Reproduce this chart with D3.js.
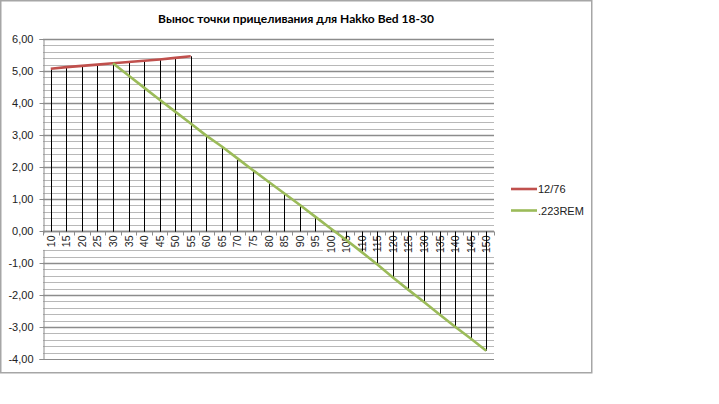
<!DOCTYPE html>
<html>
<head>
<meta charset="utf-8">
<script src="https://cdn.jsdelivr.net/npm/d3@7"></script>
<style>
  html, body { margin: 0; padding: 0; background: #fff; }
  svg { display: block; }
  text { font-family: "Liberation Sans", Arial, sans-serif; }
</style>
</head>
<body>
<div id="chart"></div>
<script>
const chartTitle = "Вынос точки прицеливания для Hakko Bed 18-30";
const distances = ["10", "15", "20", "25", "30", "35", "40", "45", "50", "55",
  "60", "65", "70", "75", "80", "85", "90", "95", "100", "105",
  "110", "115", "120", "125", "130", "135", "140", "145", "150"];
const seriesNames = ["12/76", ".223REM"];
const seriesColors = ["#c0504d", "#9bbb59"];
const values1276 = [5.07, 5.12, 5.16, 5.20, 5.24, 5.28, 5.32, 5.36, 5.41, 5.46,
  null, null, null, null, null, null, null, null, null, null,
  null, null, null, null, null, null, null, null, null];
const values223 = [null, null, null, null, 5.24, 4.86, 4.48, 4.10, 3.73, 3.36,
  2.98, 2.64, 2.27, 1.90, 1.54, 1.18, 0.82, 0.45, 0.08, -0.28,
  -0.66, -1.05, -1.45, -1.84, -2.22, -2.61, -2.99, -3.36, -3.74];
const yTicks = [-4, -3, -2, -1, 0, 1, 2, 3, 4, 5, 6];

window.addEventListener('load', drawChart);

function drawChart() {
  const W = 719, H = 404;
  const svg = d3.select('#chart').append('svg')
    .attr('width', W).attr('height', H);

  // chart frame
  svg.append('rect')
    .attr('x', 0.75).attr('y', 0.75)
    .attr('width', 591).attr('height', 372)
    .attr('fill', '#fff')
    .attr('stroke', '#a6a6a6')
    .attr('stroke-width', 1.5);

  svg.append('text')
    .attr('x', 296).attr('y', 23)
    .attr('text-anchor', 'middle')
    .style('font-family', 'Lato, sans-serif')
    .style('font-weight', 'bold')
    .style('font-size', '12px')
    .attr('fill', '#000')
    .text(chartTitle);

  const x = d3.scaleBand().domain(distances).range([43, 494]).padding(0);
  const y = d3.scaleLinear().domain([-4, 6]).range([359, 39]);
  const cx = d => x(d) + x.bandwidth() / 2;

  // minor gridlines every 0.2
  const minor = d3.range(-4, 6.001, 0.2).filter(v => Math.abs(v - Math.round(v)) > 1e-6);
  svg.append('g').selectAll('line').data(minor).enter().append('line')
    .attr('x1', 43).attr('x2', 494)
    .attr('y1', v => Math.round(y(v)) + 0.5).attr('y2', v => Math.round(y(v)) + 0.5)
    .attr('stroke', '#b8b8b8').attr('stroke-width', 1);
  // major gridlines
  svg.append('g').selectAll('line').data(yTicks.filter(v => v !== -4)).enter().append('line')
    .attr('x1', 43).attr('x2', 494)
    .attr('y1', v => Math.round(y(v)) + 0.5).attr('y2', v => Math.round(y(v)) + 0.5)
    .attr('stroke', '#8c8c8c').attr('stroke-width', 1.3);
  svg.append('line')
    .attr('x1', 43).attr('x2', 494)
    .attr('y1', Math.round(y(-4)) + 0.5).attr('y2', Math.round(y(-4)) + 0.5)
    .attr('stroke', '#8c8c8c');

  // y axis
  const yAxis = svg.append('g')
    .attr('transform', 'translate(43.5,0)')
    .call(d3.axisLeft(y).tickValues(yTicks).tickSize(4)
      .tickFormat(d => d3.format('.2f')(d).replace('.', ',').replace('−', '-')));
  yAxis.select('.domain').attr('stroke', '#8c8c8c');
  yAxis.selectAll('.tick line').attr('stroke', '#8c8c8c');
  yAxis.selectAll('text')
    .attr('x', -10)
    .style('font-size', '11px')
    .style('font-family', '"Liberation Sans", Arial, sans-serif')
    .attr('fill', '#222');

  // category axis at 0, labels with white background
  const y0 = Math.round(y(0)) + 0.5;
  const labelG = svg.append('g');
  distances.forEach(d => {
    const len = d.length * 6.2 + 2;
    labelG.append('rect')
      .attr('x', x(d)).attr('y', y0 + 2)
      .attr('width', x.bandwidth()).attr('height', len + 2)
      .attr('fill', '#fff');
    labelG.append('text')
      .attr('transform', `translate(${cx(d) + 4},${y0 + 4}) rotate(-90)`)
      .attr('text-anchor', 'end')
      .style('font-size', '10.5px')
      .attr('fill', '#222')
      .text(d);
  });
  svg.append('line')
    .attr('x1', 43).attr('x2', 494)
    .attr('y1', y0).attr('y2', y0)
    .attr('stroke', '#8c8c8c').attr('stroke-width', 1.3);
  const bounds = distances.map(d => x(d)).concat([x.range()[1]]);
  svg.append('g').selectAll('line').data(bounds).enter().append('line')
    .attr('x1', b => Math.round(b) + 0.5).attr('x2', b => Math.round(b) + 0.5)
    .attr('y1', y0).attr('y2', y0 + 4)
    .attr('stroke', '#8c8c8c');

  // drop lines
  const allSeries = [values1276, values223];
  const dropG = svg.append('g');
  allSeries.forEach(vals => {
    distances.forEach((d, i) => {
      if (vals[i] == null) return;
      dropG.append('line')
        .attr('x1', Math.round(cx(d)) + 0.5).attr('x2', Math.round(cx(d)) + 0.5)
        .attr('y1', y(vals[i])).attr('y2', y0)
        .attr('stroke', '#000').attr('stroke-width', 1);
    });
  });

  // series lines
  const line = d3.line()
    .defined(p => p.v != null)
    .x(p => cx(p.d))
    .y(p => y(p.v));
  allSeries.forEach((vals, s) => {
    svg.append('path')
      .datum(distances.map((d, i) => ({ d: d, v: vals[i] })))
      .attr('d', line)
      .attr('fill', 'none')
      .attr('stroke', seriesColors[s])
      .attr('stroke-width', 2.6)
      .attr('stroke-linejoin', 'round');
  });

  // legend
  const legend = svg.append('g').attr('transform', 'translate(511,189)');
  const items = legend.selectAll('g').data(seriesNames).enter().append('g')
    .attr('transform', (d, i) => `translate(0,${i * 21.5})`);
  items.append('line')
    .attr('x1', 0).attr('x2', 26).attr('y1', 0).attr('y2', 0)
    .attr('stroke', (d, i) => seriesColors[i]).attr('stroke-width', 2.6);
  items.append('text')
    .attr('x', 27).attr('y', 4)
    .style('font-size', '11px')
    .attr('fill', '#222')
    .text(d => d);
}
</script>
</body>
</html>
